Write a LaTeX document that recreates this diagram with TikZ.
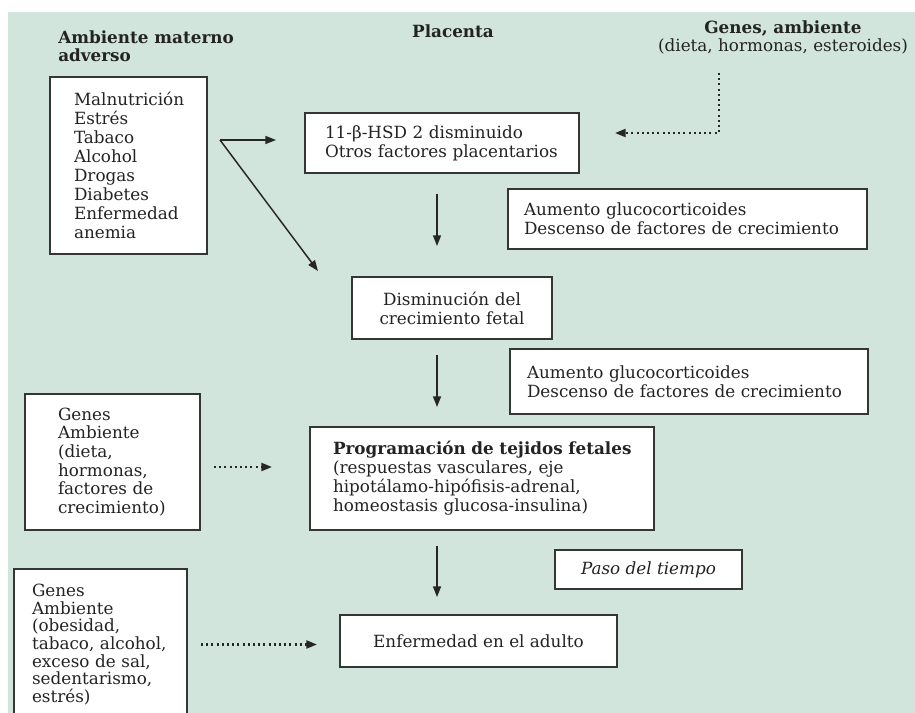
\documentclass[tikz,border=0pt]{standalone}
\usepackage{fontspec}
\setmainfont{DejaVu Serif}
\usetikzlibrary{arrows.meta}

\definecolor{fondo}{RGB}{209,229,220}
\definecolor{borde}{RGB}{50,55,53}
\definecolor{texto}{RGB}{35,35,35}

\tikzset{
  caja/.style={draw=borde, fill=white, line width=1.5pt, text=texto, inner ysep=0pt,
    align=left, font=\fontsize{12.6}{14.25}\selectfont},
  titulo/.style={text=texto, inner sep=0pt, font=\fontsize{12.6}{13.5}\selectfont},
  flecha/.style={draw=black!85, line width=1.1pt, -{Triangle[length=8pt,width=6pt]}},
  punteado/.style={flecha, line width=1.6pt, dash pattern=on 1.5pt off 2.4pt}
}

\begin{document}
\begin{tikzpicture}[x=0.75pt, y=-0.75pt]
	\clip (0,0) rectangle (915,713);
	\fill[white] (0,0) rectangle (915,713);
	\fill[fondo] (8,12) rectangle (915,713);

	% titulos
	\node[titulo, anchor=west, align=left] (tmat) at (58,46) {\bfseries Ambiente materno\\\bfseries adverso};
	\node[titulo] (tpla) at (453,31) {\bfseries Placenta};
	\node[titulo, align=center] (tgen) at (783,37) {\bfseries Genes, ambiente\\(dieta, hormonas, esteroides)};

	% cajas
	\node[caja, inner xsep=18pt, text width=81.75pt, minimum height=132.75pt] (mat) at (128.5,165.5)
		{Malnutrición\\Estrés\\Tabaco\\Alcohol\\Drogas\\Diabetes\\Enfermedad\\anemia};
	\node[caja, inner xsep=15pt, text width=175.5pt, minimum height=45pt] (hsd) at (442,143)
		{11-β-HSD 2 disminuido\\Otros factores placentarios};
	\node[caja, inner xsep=12pt, text width=245.25pt, minimum height=45pt] (gluc1) at (687.5,219)
		{Aumento glucocorticoides\\Descenso de factores de crecimiento};
	\node[caja, align=center, inner xsep=10pt, text width=130pt, minimum height=46.5pt] (dism) at (452,308)
		{Disminución del\\crecimiento fetal};
	\node[caja, inner xsep=12.75pt, text width=243pt, minimum height=48.75pt] (gluc2) at (689,381.5)
		{Aumento glucocorticoides\\Descenso de factores de crecimiento};
	\node[caja, inner xsep=24.75pt, text width=81.75pt, minimum height=102pt,
		font=\fontsize{12.6}{14}\selectfont] (gen1) at (112.5,462)
		{Genes\\Ambiente\\(dieta,\\hormonas,\\factores de\\crecimiento)};
	\node[caja, inner xsep=17.25pt, text width=223.5pt, minimum height=77.25pt] (prog) at (482,478.5)
		{\mbox{\textbf{Programación de tejidos fetales}}\\(respuestas vasculares, eje\\hipotálamo-hipófisis-adrenal,\\homeostasis glucosa-insulina)};
	\node[caja, align=center, minimum width=140.25pt, minimum height=29.25pt,
		font=\itshape\fontsize{12.6}{14}\selectfont] (paso) at (648.5,569.5)
		{Paso del tiempo};
	\node[caja, align=center, minimum width=207.75pt, minimum height=39pt] (enf) at (478.5,641)
		{Enfermedad en el adulto};
	\node[caja, inner xsep=13.5pt, text width=102.75pt, minimum height=113.25pt,
		font=\fontsize{12.6}{13.2}\selectfont] (gen2) at (100.5,644.5)
		{Genes\\Ambiente\\(obesidad,\\tabaco, alcohol,\\exceso de sal,\\sedentarismo,\\estrés)};

	% flechas
	\coordinate (rama) at (220,140);
	\coordinate (diag) at (318,271);
	\coordinate (eje) at (437,0);
	\coordinate (bajada) at (719,73);

	\draw[flecha, shorten >=21pt] (rama) -- (rama -| hsd.west);
	\draw[flecha] (rama) -- (diag);
	\draw[punteado, shorten >=26.25pt] (bajada) |- ([yshift=7.5pt]hsd.east);
	\draw[flecha, shorten <=15pt, shorten >=22.5pt] (hsd.south -| eje) -- (dism.north -| eje);
	\draw[flecha, shorten <=11.25pt, shorten >=14.25pt] (dism.south -| eje) -- (prog.north -| eje);
	\draw[flecha, shorten <=11.25pt, shorten >=12.75pt] (prog.south -| eje) -- (enf.north -| eje);
	\draw[punteado, shorten <=9.75pt, shorten >=27.75pt] ([yshift=-3.75pt]gen1.east) -- ([yshift=-3.75pt]gen1.east -| prog.west);
	\draw[punteado, shorten <=9.75pt, shorten >=16.5pt] (gen2.east) -- (gen2.east -| enf.west);

\end{tikzpicture}
\end{document}
